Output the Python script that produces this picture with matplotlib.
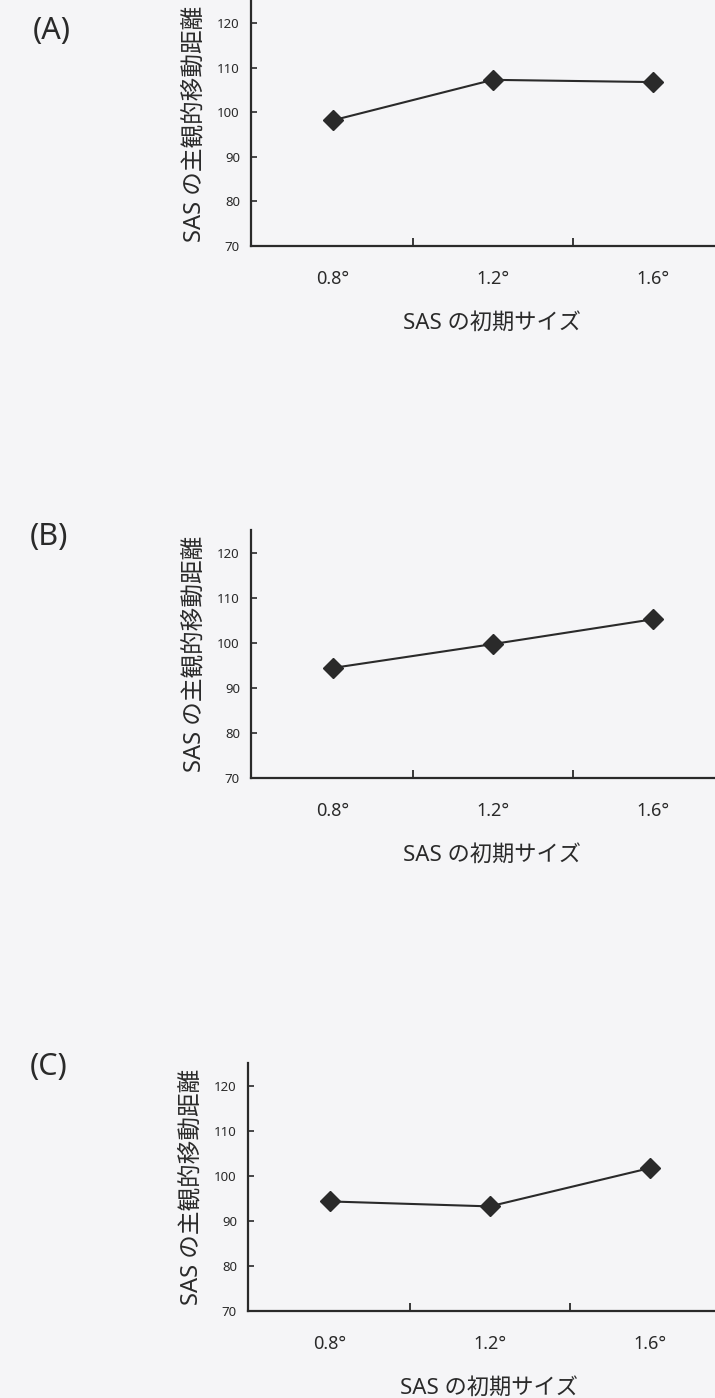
#!/usr/bin/env python3
"""Three panels: subjective travel distance of the SAS vs its initial size."""

import matplotlib
matplotlib.use("Agg")
import matplotlib.pyplot as plt
from matplotlib import font_manager
from matplotlib.ticker import FixedLocator

# data
sizes = ["0.8°", "1.2°", "1.6°"]
panel_labels = ["(A)", "(B)", "(C)"]
dist_a = [98.2, 107.3, 106.8]
dist_b = [94.4, 99.7, 105.2]
dist_c = [94.3, 93.2, 101.7]
y_ticks = [70, 80, 90, 100, 110, 120]

X_LABEL = "SAS の初期サイズ"
Y_LABEL = "SAS の主観的移動距離"

INK = "#2a2a2a"
BG = "#f5f5f7"

available = {f.name for f in font_manager.fontManager.ttflist}
latin = "Liberation Sans Narrow" if "Liberation Sans Narrow" in available else "Noto Sans"
plt.rcParams["font.family"] = [latin, "Noto Sans CJK JP", "DejaVu Sans"]

# axes rectangles in pixels: (left, bottom_y_from_top, height)
PANELS = [
    (251, 246, 245),
    (251, 778, 248),
    (248, 1311, 248),
]
# letter positions (x, y) in pixels from top-left
LETTERS = [(52, 31), (49, 537), (49, 1067)]

W, H = 715, 1398


def draw_panel(fig, rect, values, letter, letter_xy):
    left, bottom, height = rect
    width = 482
    ax = fig.add_axes([left / W, (H - bottom) / H, width / W, height / H])
    ax.set_facecolor("none")

    xs = list(range(len(sizes)))
    ax.plot(xs, values, color=INK, lw=1.5, marker="D", ms=10,
            mfc=INK, mec=INK, clip_on=False)

    ax.set_xlim(-0.51, 2.5)
    ax.set_ylim(70, 125)

    for side in ("top", "right"):
        ax.spines[side].set_visible(False)
    for side in ("left", "bottom"):
        ax.spines[side].set_linewidth(1.6)
        ax.spines[side].set_color(INK)

    ax.set_xticks(xs)
    ax.set_xticklabels(sizes)
    ax.xaxis.set_minor_locator(FixedLocator([0.5, 1.5]))
    ax.tick_params(axis="x", which="major", length=0, pad=17,
                   labelsize=13, colors=INK)
    ax.tick_params(axis="x", which="minor", direction="in", length=5.5,
                   width=1.3, color=INK)

    ax.set_yticks(y_ticks)
    ax.tick_params(axis="y", direction="in", length=4, width=1.2,
                   pad=8, labelsize=9.5, colors=INK)

    ax.set_xlabel(X_LABEL, fontsize=16, color=INK, labelpad=18)
    ax.set_ylabel(Y_LABEL, fontsize=17, color=INK, labelpad=8)

    fig.text(letter_xy[0] / W, 1 - letter_xy[1] / H, letter,
             fontsize=22, color=INK, ha="center", va="center")
    return ax


def main() -> None:
    fig = plt.figure(figsize=(W / 100, H / 100), dpi=100)
    fig.patch.set_facecolor(BG)

    for rect, values, letter, xy in zip(PANELS, [dist_a, dist_b, dist_c],
                                        panel_labels, LETTERS):
        draw_panel(fig, rect, values, letter, xy)

    fig.savefig("out.png", dpi=100, facecolor=BG)
    plt.close(fig)


if __name__ == "__main__":
    main()
